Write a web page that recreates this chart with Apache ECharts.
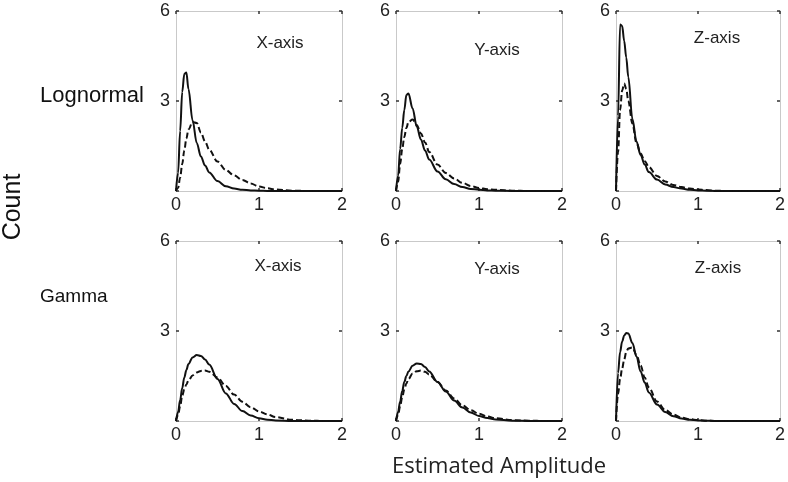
<!DOCTYPE html>
<html>
<head>
<meta charset="utf-8">
<script src="https://cdn.jsdelivr.net/npm/echarts@6/dist/echarts.min.js"></script>
<style>
html,body{margin:0;padding:0;background:#fff;}
#chart{width:788px;height:482px;}
</style>
</head>
<body>
<div id="chart"></div>
<script>
// Shared amplitude sample points (x values)
const amplitude = [0, 0.025, 0.05, 0.075, 0.1, 0.125, 0.15, 0.2, 0.25, 0.3, 0.35, 0.4, 0.5, 0.6, 0.7, 0.8, 0.9, 1.0, 1.1, 1.2, 1.4, 1.6, 1.8, 2.0];

// Lognormal row
const lognormXSolid  = [0, 0.6, 2.0, 3.3, 3.9, 3.95, 3.4, 2.35, 1.6, 1.15, 0.85, 0.62, 0.33, 0.16, 0.08, 0.04, 0.02, 0.01, 0, 0, 0, 0, 0, 0];
const lognormXDashed = [0, 0.1, 0.45, 0.9, 1.35, 1.75, 2.05, 2.3, 2.27, 1.95, 1.65, 1.38, 0.98, 0.7, 0.52, 0.37, 0.25, 0.15, 0.09, 0.05, 0.01, 0, 0, 0];
const lognormYSolid  = [0, 0.5, 1.4, 2.1, 2.7, 3.2, 3.25, 2.75, 2.15, 1.72, 1.35, 1.05, 0.65, 0.39, 0.23, 0.13, 0.07, 0.04, 0.02, 0.01, 0, 0, 0, 0];
const lognormYDashed = [0, 0.3, 0.9, 1.4, 1.8, 2.1, 2.3, 2.38, 2.2, 1.92, 1.62, 1.3, 0.88, 0.6, 0.42, 0.27, 0.17, 0.1, 0.06, 0.04, 0.01, 0, 0, 0];
const lognormZSolid  = [0, 2.5, 5.55, 5.5, 5.0, 4.45, 3.8, 2.4, 1.65, 1.2, 0.88, 0.63, 0.38, 0.22, 0.13, 0.08, 0.04, 0.02, 0.01, 0, 0, 0, 0, 0];
const lognormZDashed = [0, 1.3, 2.7, 3.35, 3.58, 3.4, 3.0, 2.25, 1.6, 1.25, 1.0, 0.8, 0.5, 0.32, 0.2, 0.13, 0.08, 0.05, 0.03, 0.01, 0, 0, 0, 0];

// Gamma row
const gammaXSolid  = [0, 0.3, 0.7, 1.1, 1.45, 1.7, 1.9, 2.12, 2.2, 2.17, 2.05, 1.88, 1.4, 0.92, 0.57, 0.33, 0.18, 0.09, 0.04, 0.02, 0, 0, 0, 0];
const gammaXDashed = [0, 0.2, 0.5, 0.85, 1.05, 1.22, 1.35, 1.52, 1.62, 1.67, 1.68, 1.64, 1.45, 1.17, 0.88, 0.64, 0.46, 0.32, 0.22, 0.13, 0.04, 0.01, 0, 0];
const gammaYSolid  = [0, 0.3, 0.65, 1.0, 1.3, 1.5, 1.65, 1.84, 1.92, 1.9, 1.8, 1.65, 1.3, 0.98, 0.68, 0.45, 0.28, 0.17, 0.1, 0.05, 0.01, 0, 0, 0];
const gammaYDashed = [0, 0.2, 0.5, 0.8, 1.05, 1.25, 1.4, 1.58, 1.66, 1.68, 1.64, 1.55, 1.3, 1.02, 0.75, 0.52, 0.36, 0.24, 0.15, 0.09, 0.03, 0.01, 0, 0];
const gammaZSolid  = [0, 1.6, 2.3, 2.65, 2.85, 2.93, 2.92, 2.6, 2.15, 1.65, 1.28, 0.95, 0.55, 0.3, 0.16, 0.08, 0.04, 0.02, 0.01, 0, 0, 0, 0, 0];
const gammaZDashed = [0, 0.9, 1.4, 1.75, 2.05, 2.3, 2.42, 2.45, 2.2, 1.85, 1.45, 1.12, 0.65, 0.37, 0.21, 0.11, 0.06, 0.03, 0.01, 0, 0, 0, 0, 0];

// Tick values / labels
const xTicks = [0, 1, 2];
const yTicks = [0, 3, 6];
const panelTitles = ['X-axis', 'Y-axis', 'Z-axis', 'X-axis', 'Y-axis', 'Z-axis'];
const rowLabels = ['Lognormal', 'Gamma'];
const yAxisTitle = 'Count';
const xAxisTitle = 'Estimated Amplitude';

const panels = [
  [lognormXSolid, lognormXDashed], [lognormYSolid, lognormYDashed], [lognormZSolid, lognormZDashed],
  [gammaXSolid, gammaXDashed], [gammaYSolid, gammaYDashed], [gammaZSolid, gammaZDashed]
];

const chart = echarts.init(document.getElementById('chart'), null, {renderer: 'canvas'});

const boxColor = '#c9c9c9';
const tickColor = '#333';
const labelFont = {fontFamily: 'Liberation Sans', fontSize: 18, color: '#222'};

const grids = [], xAxes = [], yAxes = [], series = [];
panels.forEach((p, i) => {
  const col = i % 3, row = Math.floor(i / 3);
  grids.push({left: 176 + 220 * col, top: 11 + 230 * row, width: 166, height: 180});
  const baseX = {gridIndex: i, type: 'value', min: xTicks[0], max: xTicks[xTicks.length - 1], interval: 1,
    splitLine: {show: false},
    axisLine: {show: true, onZero: false, lineStyle: {color: boxColor, width: 1}},
    axisTick: {show: true, inside: true, length: 3, lineStyle: {color: tickColor, width: 1.5}}};
  xAxes.push(Object.assign({}, baseX, {position: 'bottom',
    axisLabel: Object.assign({show: true, margin: 5}, labelFont)}));
  xAxes.push(Object.assign({}, baseX, {position: 'top', axisLabel: {show: false}}));
  const baseY = {gridIndex: i, type: 'value', min: yTicks[0], max: yTicks[yTicks.length - 1], interval: 3,
    splitLine: {show: false},
    axisLine: {show: true, onZero: false, lineStyle: {color: boxColor, width: 1}},
    axisTick: {show: true, inside: true, length: 3, lineStyle: {color: tickColor, width: 1.5}}};
  yAxes.push(Object.assign({}, baseY, {position: 'left',
    axisLabel: Object.assign({show: true, margin: 6, formatter: v => (v === 0 ? '' : String(v))}, labelFont)}));
  yAxes.push(Object.assign({}, baseY, {position: 'right', axisLabel: {show: false}}));
  const styles = [{type: 'solid'}, {type: [6, 3]}];
  p.forEach((vals, k) => {
    series.push({
      type: 'line', xAxisIndex: 2 * i, yAxisIndex: 2 * i,
      data: amplitude.map((x, j) => [x, vals[j]]),
      showSymbol: false, symbol: 'none', smooth: 0.35, smoothMonotone: 'x',
      lineStyle: {color: '#111', width: 2, type: styles[k].type},
      silent: true, animation: false
    });
  });
});

const titlePos = [[280, 43], [497, 50], [717, 38], [278, 266], [497, 269], [718, 268]];
const graphics = panelTitles.map((t, i) => ({
  type: 'text', x: titlePos[i][0], y: titlePos[i][1],
  style: {text: t, fontFamily: 'Liberation Sans', fontSize: 17, fill: '#222', textAlign: 'center', textVerticalAlign: 'middle'}
}));

const rowPos = [[40, 96], [40, 297]];
const rowSizes = [22, 19];
rowLabels.forEach((t, i) => graphics.push({
  type: 'text', x: rowPos[i][0], y: rowPos[i][1],
  style: {text: t, fontFamily: 'Liberation Sans', fontSize: rowSizes[i], fill: '#111', textAlign: 'left', textVerticalAlign: 'middle'}
}));
graphics.push({
  type: 'text', x: 13, y: 207, rotation: Math.PI / 2,
  style: {text: yAxisTitle, fontFamily: 'Liberation Sans', fontSize: 25, fill: '#111', textAlign: 'center', textVerticalAlign: 'middle'}
});
graphics.push({
  type: 'text', x: 499, y: 467,
  style: {text: xAxisTitle, fontFamily: 'Open Sans', fontSize: 22, fill: '#222', textAlign: 'center', textVerticalAlign: 'middle'}
});

chart.setOption({
  animation: false,
  backgroundColor: '#fff',
  grid: grids,
  xAxis: xAxes,
  yAxis: yAxes,
  series: series,
  graphic: graphics
});
</script>
</body>
</html>
